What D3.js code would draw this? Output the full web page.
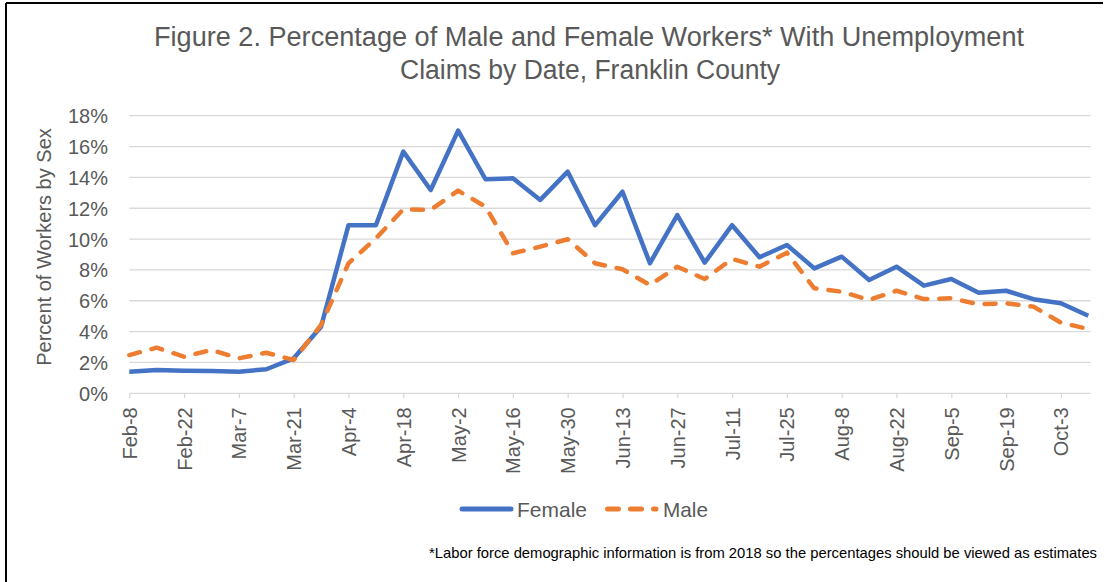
<!DOCTYPE html>
<html>
<head>
<meta charset="utf-8">
<script src="https://cdn.jsdelivr.net/npm/d3@7"></script>
<style>
  html, body { margin: 0; padding: 0; background: #fff; }
  svg { display: block; }
</style>
</head>
<body>
<svg id="chart" width="1106" height="582"></svg>
<script>
const dates = ["Feb-8","Feb-15","Feb-22","Feb-29","Mar-7","Mar-14","Mar-21","Mar-28","Apr-4","Apr-11","Apr-18","Apr-25","May-2","May-9","May-16","May-23","May-30","Jun-6","Jun-13","Jun-20","Jun-27","Jul-4","Jul-11","Jul-18","Jul-25","Aug-1","Aug-8","Aug-15","Aug-22","Aug-29","Sep-5","Sep-12","Sep-19","Sep-26","Oct-3","Oct-10"];
const female = [1.40,1.51,1.47,1.45,1.40,1.56,2.27,4.32,10.9,10.9,15.67,13.18,17.03,13.88,13.94,12.54,14.37,10.9,13.07,8.43,11.56,8.47,10.9,8.82,9.62,8.10,8.86,7.35,8.21,6.98,7.41,6.52,6.65,6.10,5.84,5.03];
const male = [2.48,2.96,2.37,2.81,2.27,2.63,2.16,4.43,8.43,10.05,11.93,11.90,13.14,12.10,9.08,9.51,9.99,8.43,8.04,7.02,8.21,7.41,8.71,8.21,9.12,6.81,6.59,6.05,6.65,6.11,6.16,5.77,5.84,5.62,4.58,4.17];
const yTicks = [0,2,4,6,8,10,12,14,16,18];
const seriesNames = ["Female","Male"];
const titleLines = ["Figure 2. Percentage of Male and Female Workers* With Unemployment","Claims by Date, Franklin County"];
const yLabel = "Percent of Workers by Sex";
const footnote = "*Labor force demographic information is from 2018 so the percentages should be viewed as estimates";

const svg = d3.select("#chart");
const textColor = "#595959";
const gridColor = "#D9D9D9";
const femaleColor = "#4472C4";
const maleColor = "#ED7D31";
const narrow = "'Liberation Sans Narrow', 'Liberation Sans', Arial, sans-serif";
const sans = "'Liberation Sans', Arial, sans-serif";

// frame
svg.append("line").attr("x1", 6).attr("x2", 6).attr("y1", 3).attr("y2", 582).attr("stroke", "#000").attr("stroke-width", 2);
svg.append("line").attr("x1", 6).attr("x2", 1103).attr("y1", 3).attr("y2", 3).attr("stroke", "#000").attr("stroke-width", 2);

const x = d3.scalePoint().domain(dates).range([129.3, 1088.3]);
const y = d3.scaleLinear().domain([0, 18]).range([393.3, 115.7]);
const plotRight = 1090.7;

// title
svg.append("text").attr("x", 589).attr("y", 46).attr("text-anchor", "middle")
  .attr("font-family", narrow).attr("font-size", 27).attr("fill", textColor)
  .attr("textLength", 870).attr("lengthAdjust", "spacingAndGlyphs").text(titleLines[0]);
svg.append("text").attr("x", 590).attr("y", 79).attr("text-anchor", "middle")
  .attr("font-family", narrow).attr("font-size", 27).attr("fill", textColor)
  .attr("textLength", 380).attr("lengthAdjust", "spacingAndGlyphs").text(titleLines[1]);

// gridlines
svg.append("g").selectAll("line").data(yTicks.filter(d => d > 0)).join("line")
  .attr("x1", 129.3).attr("x2", plotRight)
  .attr("y1", d => y(d)).attr("y2", d => y(d))
  .attr("stroke", gridColor).attr("stroke-width", 1.3);

// y axis labels
const yAxis = d3.axisLeft(y).tickValues(yTicks).tickSize(0).tickPadding(0).tickFormat(d => d + "%");
const yg = svg.append("g").attr("transform", "translate(108,0)").call(yAxis);
yg.select(".domain").remove();
yg.selectAll("text").attr("font-family", sans).attr("font-size", 20).attr("fill", textColor).attr("dy", "0.35em");

// x axis
const xAxis = d3.axisBottom(x).tickValues(dates.filter((d, i) => i % 2 === 0)).tickSize(5).tickSizeOuter(0);
const xg = svg.append("g").attr("transform", `translate(0,${y(0)})`).call(xAxis);
xg.select(".domain").attr("d", `M129.3,0H${plotRight}`).attr("stroke", gridColor).attr("stroke-width", 1.3);
xg.selectAll(".tick line").attr("stroke", gridColor).attr("stroke-width", 1.3);
xg.selectAll(".tick text")
  .attr("font-family", sans).attr("font-size", 20).attr("fill", textColor)
  .attr("transform", "rotate(-90)")
  .attr("text-anchor", "end")
  .attr("x", -14).attr("y", 0).attr("dy", "0.35em");

// y axis title
svg.append("text").attr("transform", "translate(51,247) rotate(-90)").attr("text-anchor", "middle")
  .attr("font-family", sans).attr("font-size", 20).attr("fill", textColor).text(yLabel);

// lines
const line = d3.line().x((d, i) => x(dates[i])).y(d => y(d));
svg.append("path").datum(female).attr("d", line).attr("fill", "none")
  .attr("stroke", femaleColor).attr("stroke-width", 4.5).attr("stroke-linejoin", "round");
svg.append("path").datum(male).attr("d", line).attr("fill", "none")
  .attr("stroke", maleColor).attr("stroke-width", 4.5).attr("stroke-linejoin", "round")
  .attr("stroke-linecap", "round").attr("stroke-dasharray", "11,12");

// legend
const lg = svg.append("g");
lg.append("line").attr("x1", 462).attr("x2", 511).attr("y1", 509).attr("y2", 509)
  .attr("stroke", femaleColor).attr("stroke-width", 5).attr("stroke-linecap", "round");
lg.append("text").attr("x", 517).attr("y", 516.5).attr("font-family", narrow).attr("font-size", 21)
  .attr("fill", textColor).attr("textLength", 70).attr("lengthAdjust", "spacingAndGlyphs").text(seriesNames[0]);
lg.append("line").attr("x1", 607.5).attr("x2", 656).attr("y1", 509).attr("y2", 509)
  .attr("stroke", maleColor).attr("stroke-width", 5).attr("stroke-linecap", "round").attr("stroke-dasharray", "11,12");
lg.append("text").attr("x", 663).attr("y", 516.5).attr("font-family", narrow).attr("font-size", 21)
  .attr("fill", textColor).attr("textLength", 45).attr("lengthAdjust", "spacingAndGlyphs").text(seriesNames[1]);

// footnote
svg.append("text").attr("x", 429).attr("y", 558).attr("font-family", narrow).attr("font-size", 15)
  .attr("fill", "#000").attr("textLength", 668).attr("lengthAdjust", "spacingAndGlyphs").text(footnote);
</script>
</body>
</html>
